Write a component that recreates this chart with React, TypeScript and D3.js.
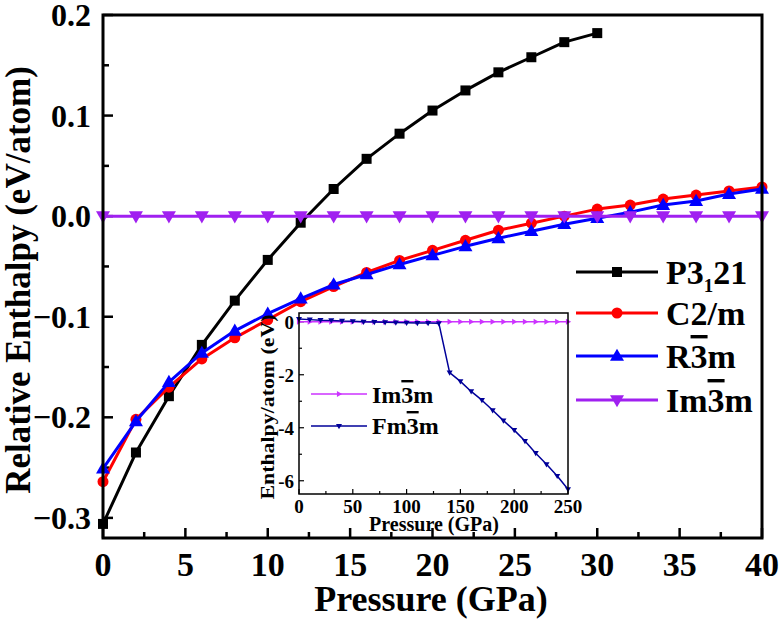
import React from "react";
import * as d3 from "d3";

// ---------- data ----------
const pressureMain = [0, 2, 4, 6, 8, 10, 12, 14, 16, 18, 20, 22, 24, 26, 28, 30, 32, 34, 36, 38, 40];
const pressureP3121 = [0, 2, 4, 6, 8, 10, 12, 14, 16, 18, 20, 22, 24, 26, 28, 30];
const p3121 = [-0.306, -0.235, -0.179, -0.128, -0.084, -0.0435, -0.0065, 0.027, 0.057, 0.082, 0.105, 0.125, 0.143, 0.158, 0.173, 0.182];
const c2m = [-0.264, -0.202, -0.170, -0.142, -0.121, -0.103, -0.085, -0.070, -0.056, -0.044, -0.034, -0.024, -0.014, -0.007, 0.000, 0.007, 0.011, 0.017, 0.021, 0.025, 0.029];
const r3m = [-0.251, -0.204, -0.165, -0.136, -0.114, -0.097, -0.082, -0.068, -0.058, -0.048, -0.039, -0.030, -0.022, -0.015, -0.008, -0.002, 0.004, 0.011, 0.015, 0.022, 0.027];
const im3m = [0, 0, 0, 0, 0, 0, 0, 0, 0, 0, 0, 0, 0, 0, 0, 0, 0, 0, 0, 0, 0];

const pressureInset = [0, 10, 20, 30, 40, 50, 60, 70, 80, 90, 100, 110, 120, 130, 140, 150, 160, 170, 180, 190, 200, 210, 220, 230, 240, 250];
const insetIm3m = pressureInset.map(() => 0);
const insetFm3m = [0.1, 0.08, 0.06, 0.05, 0.03, 0.02, 0.0, -0.01, -0.02, -0.03, -0.04, -0.05, -0.05, -0.06, -1.92, -2.25, -2.63, -2.96, -3.34, -3.73, -4.09, -4.5, -4.96, -5.38, -5.82, -6.32];

const xTickLabels = [0, 5, 10, 15, 20, 25, 30, 35, 40];
const yTickLabels = [-0.3, -0.2, -0.1, 0.0, 0.1, 0.2];
const insetXTickLabels = [0, 50, 100, 150, 200, 250];
const insetYTickLabels = [0, -2, -4, -6];

// ---------- layout ----------
const W = 779, H = 623;
const FONT = "'Liberation Serif', 'Times New Roman', serif";
const M = { left: 103, right: 762, top: 15, bottom: 538 };
const I = { left: 299, right: 568, top: 313, bottom: 494 };

const C_BLACK = "#000000";
const C_RED = "#FF0000";
const C_BLUE = "#0000FF";
const C_PURPLE = "#A020F0";
const C_INSET_IM = "#CC33FF";
const C_INSET_FM = "#000099";

type Pt = [number, number];

function Marker({ kind, x, y, size, color }: { kind: string; x: number; y: number; size: number; color: string }) {
  const s = size;
  if (kind === "square") return <rect x={x - s / 2} y={y - s / 2} width={s} height={s} fill={color} />;
  if (kind === "circle") return <circle cx={x} cy={y} r={s / 2} fill={color} />;
  if (kind === "up") {
    const h = s * 0.87;
    return <path d={`M${x},${y - h * 0.6}L${x + s / 2},${y + h * 0.4}L${x - s / 2},${y + h * 0.4}Z`} fill={color} />;
  }
  if (kind === "down") {
    const h = s * 0.87;
    return <path d={`M${x},${y + h * 0.6}L${x + s / 2},${y - h * 0.4}L${x - s / 2},${y - h * 0.4}Z`} fill={color} />;
  }
  if (kind === "right") {
    const h = s * 0.87;
    return <path d={`M${x + h * 0.6},${y}L${x - h * 0.4},${y - s / 2}L${x - h * 0.4},${y + s / 2}Z`} fill={color} />;
  }
  return null;
}

function Series({ pts, color, width, kind, size }: { pts: Pt[]; color: string; width: number; kind: string; size: number }) {
  const line = d3.line<Pt>().x((d) => d[0]).y((d) => d[1]);
  return (
    <g>
      <path d={line(pts) || ""} fill="none" stroke={color} strokeWidth={width} strokeLinejoin="round" />
      {pts.map((p, i) => (
        <Marker key={i} kind={kind} x={p[0]} y={p[1]} size={size} color={color} />
      ))}
    </g>
  );
}

function Bar3({ children }: { children: React.ReactNode }) {
  return <tspan style={{ textDecoration: "overline" }}>{children}</tspan>;
}

export default function App() {
  const x = d3.scaleLinear().domain([0, 40]).range([M.left, M.right]);
  const y = d3.scaleLinear().domain([-0.32, 0.2]).range([M.bottom, M.top]);
  const ix = d3.scaleLinear().domain([0, 250]).range([I.left, I.right]);
  const iy = d3.scaleLinear().domain([-6.5, 0.33]).range([I.bottom, I.top]);

  const ptsP = pressureP3121.map((p, i) => [x(p), y(p3121[i])] as Pt);
  const ptsC = pressureMain.map((p, i) => [x(p), y(c2m[i])] as Pt);
  const ptsR = pressureMain.map((p, i) => [x(p), y(r3m[i])] as Pt);
  const ptsI = pressureMain.map((p, i) => [x(p), y(im3m[i])] as Pt);
  const ptsII = pressureInset.map((p, i) => [ix(p), iy(insetIm3m[i])] as Pt);
  const ptsIF = pressureInset.map((p, i) => [ix(p), iy(insetFm3m[i])] as Pt);

  const xMinor = d3.range(0, 40.01, 2.5);
  const yMinor = d3.range(-0.3, 0.2001, 0.05);
  const ixMinor = d3.range(0, 250.01, 25);
  const iyMinor = d3.range(-6, 0.01, 1);

  const legendRows = [
    { y: 272, color: C_BLACK, kind: "square", size: 10 },
    { y: 313, color: C_RED, kind: "circle", size: 11 },
    { y: 356, color: C_BLUE, kind: "up", size: 14 },
    { y: 400, color: C_PURPLE, kind: "down", size: 14 },
  ];
  const legendLabels: React.ReactNode[] = [
    <>
      P3<tspan fontSize={19} dy={8}>1</tspan>
      <tspan dy={-8}>21</tspan>
    </>,
    <>C2/m</>,
    <>
      R<Bar3>3</Bar3>m
    </>,
    <>
      Im<Bar3>3</Bar3>m
    </>,
  ];

  return (
    <svg width={W} height={H} style={{ position: "absolute", left: 0, top: 0, background: "#fff" }} fontFamily={FONT} fontWeight="bold">
      <rect x={0} y={0} width={W} height={H} fill="#fff" />

      {/* main ticks (inward) */}
      {xMinor.map((t, i) => {
        const major = Math.abs(t % 5) < 1e-6;
        return <line key={"xt" + i} x1={x(t)} x2={x(t)} y1={M.bottom} y2={M.bottom - (major ? 10 : 6)} stroke="#000" strokeWidth={2.5} />;
      })}
      {yMinor.map((t, i) => {
        const major = Math.abs(Math.round(t * 20)) % 2 === 0;
        return <line key={"yt" + i} x1={M.left} x2={M.left + (major ? 10 : 6)} y1={y(t)} y2={y(t)} stroke="#000" strokeWidth={2.5} />;
      })}

      {/* series */}
      <Series pts={ptsP} color={C_BLACK} width={3} kind="square" size={10} />
      <Series pts={ptsC} color={C_RED} width={3} kind="circle" size={11} />
      <Series pts={ptsR} color={C_BLUE} width={3} kind="up" size={14} />
      <Series pts={ptsI} color={C_PURPLE} width={3} kind="down" size={14} />

      {/* main frame */}
      <rect x={M.left} y={M.top} width={M.right - M.left} height={M.bottom - M.top} fill="none" stroke="#000" strokeWidth={3} />

      {/* main tick labels */}
      {xTickLabels.map((t) => (
        <text key={"xl" + t} x={x(t)} y={576} textAnchor="middle" fontSize={34}>
          {t}
        </text>
      ))}
      {yTickLabels.map((t) => (
        <text key={"yl" + t} x={91} y={y(t) + 11} textAnchor="end" fontSize={32}>
          {d3.format(".1f")(t)}
        </text>
      ))}

      {/* axis titles */}
      <text x={431} y={611} textAnchor="middle" fontSize={36}>
        Pressure (GPa)
      </text>
      <text transform={`translate(30, 280) rotate(-90)`} textAnchor="middle" fontSize={35}>
        Relative Enthalpy (eV/atom)
      </text>

      {/* main legend */}
      {legendRows.map((r, i) => (
        <g key={"lg" + i}>
          <line x1={576} x2={658} y1={r.y} y2={r.y} stroke={r.color} strokeWidth={3} />
          <Marker kind={r.kind} x={617} y={r.y} size={r.size} color={r.color} />
          <text x={666} y={r.y + 12} fontSize={34}>
            {legendLabels[i]}
          </text>
        </g>
      ))}

      {/* inset */}
      <rect x={I.left} y={I.top} width={I.right - I.left} height={I.bottom - I.top} fill="#fff" />
      {ixMinor.map((t, i) => {
        const major = Math.round(t) % 50 === 0;
        return <line key={"ixt" + i} x1={ix(t)} x2={ix(t)} y1={I.bottom} y2={I.bottom - (major ? 5 : 3)} stroke="#000" strokeWidth={1.2} />;
      })}
      {iyMinor.map((t, i) => {
        const major = Math.round(t) % 2 === 0;
        return <line key={"iyt" + i} x1={I.left} x2={I.left + (major ? 5 : 3)} y1={iy(t)} y2={iy(t)} stroke="#000" strokeWidth={1.2} />;
      })}
      <Series pts={ptsII} color={C_INSET_IM} width={1.5} kind="right" size={6} />
      <Series pts={ptsIF} color={C_INSET_FM} width={1.5} kind="down" size={6} />
      <rect x={I.left} y={I.top} width={I.right - I.left} height={I.bottom - I.top} fill="none" stroke="#000" strokeWidth={1.5} />

      {insetXTickLabels.map((t) => (
        <text key={"ixl" + t} x={ix(t)} y={513} textAnchor="middle" fontSize={19}>
          {t}
        </text>
      ))}
      {insetYTickLabels.map((t) => (
        <text key={"iyl" + t} x={294} y={iy(t) + 7} textAnchor="end" fontSize={19}>
          {t}
        </text>
      ))}
      <text x={434} y={531} textAnchor="middle" fontSize={20}>
        Pressure (GPa)
      </text>
      <text
        transform={`translate(274, 407) rotate(-90)`}
        textAnchor="middle"
        fontSize={19}
        textLength={185}
        lengthAdjust="spacingAndGlyphs"
      >
        Enthalpy/atom (eV)
      </text>

      {/* inset legend */}
      <line x1={311} x2={367} y1={394} y2={394} stroke={C_INSET_IM} strokeWidth={1.5} />
      <Marker kind="right" x={339} y={394} size={6} color={C_INSET_IM} />
      <text x={372} y={403} fontSize={24}>
        Im<Bar3>3</Bar3>m
      </text>
      <line x1={311} x2={367} y1={426} y2={426} stroke={C_INSET_FM} strokeWidth={1.5} />
      <Marker kind="down" x={339} y={426} size={6} color={C_INSET_FM} />
      <text x={372} y={434} fontSize={24}>
        Fm<Bar3>3</Bar3>m
      </text>
    </svg>
  );
}
